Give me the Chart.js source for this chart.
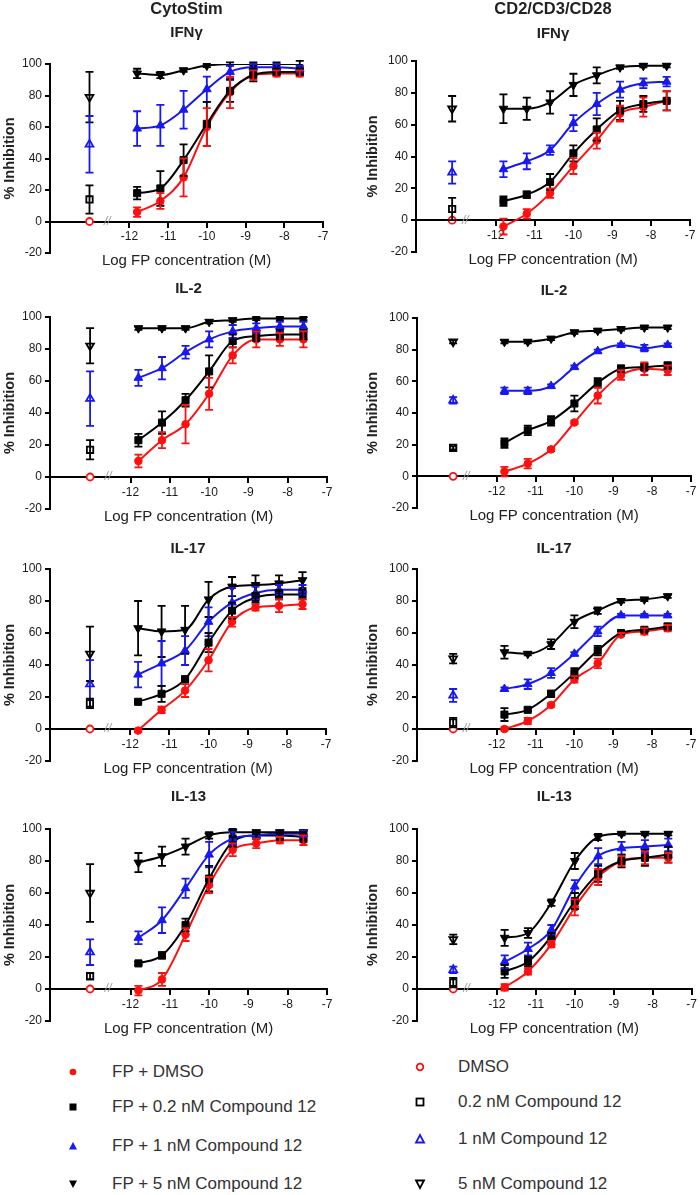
<!DOCTYPE html>
<html><head><meta charset="utf-8">
<script src="https://cdn.jsdelivr.net/npm/chart.js@4/dist/chart.umd.min.js"></script>
<style>
body{margin:0;background:#fff;width:700px;height:1195px;position:relative;overflow:hidden;font-family:"Liberation Sans",Arial,sans-serif}
canvas{position:absolute}
.lg{position:absolute;font-size:17px;color:#333;white-space:nowrap;line-height:20px}
.lg svg{position:absolute}
</style></head><body>
<script>
// ---------- data ----------
const doses = [-11.8,-11.2,-10.6,-10.0,-9.4,-8.8,-8.2,-7.6];
const xTicks = [-12,-11,-10,-9,-8,-7];
const yTicks = [-20,0,20,40,60,80,100];
const groupTitles = ['CytoStim','CD2/CD3/CD28'];
const cytokines = ['IFNγ','IL-2','IL-17','IL-13'];
const seriesNames = ['FP + DMSO','FP + 0.2 nM Compound 12','FP + 1 nM Compound 12','FP + 5 nM Compound 12'];
const controlNames = ['DMSO','0.2 nM Compound 12','1 nM Compound 12','5 nM Compound 12'];
const controlX = [-13.03,-13.12];

// CytoStim IFNγ
const cs_ifng_m0=[6,13,28,60,82,93,94,94],   cs_ifng_e0=[3,5,12,12,10,3,2,2];
const cs_ifng_m1=[18,21,39,62,83,93,95,95],  cs_ifng_e1=[4,11,10,14,7,4,2,2];
const cs_ifng_m2=[59,61,71,84,95,98,98,97],  cs_ifng_e2=[11,13,12,8,4,2,2,2];
const cs_ifng_m3=[94,93,96,99,100,100,100,100], cs_ifng_e3=[3,2,1,1,1,1,1,2];
const cs_ifng_ctrl=[0,14,49,79], cs_ifng_ctrlErr=[0,9,18,16];
// CD2/CD3/CD28 IFNγ
const cd_ifng_m0=[-4,4,17,34,50,67,71,75],   cd_ifng_e0=[5,3,3,5,5,5,6,6];
const cd_ifng_m1=[12,16,24,42,57,69,73,75],  cd_ifng_e1=[3,2,5,5,7,6,5,6];
const cd_ifng_m2=[32,37,44,61,73,82,86,87],  cd_ifng_e2=[5,5,3,5,7,5,3,3];
const cd_ifng_m3=[70,70,74,85,91,96,97,97],  cd_ifng_e3=[9,7,7,7,5,1,1,1];
const cd_ifng_ctrl=[0,7,30,70], cd_ifng_ctrlErr=[0,7,7,8];
// CytoStim IL-2
const cs_il2_m0=[10,23,33,52,76,86,86,86],   cs_il2_e0=[4,5,12,10,5,5,4,5];
const cs_il2_m1=[23,34,48,66,85,88,89,89],   cs_il2_e1=[4,7,4,10,4,3,3,3];
const cs_il2_m2=[62,68,78,86,91,93,94,94],   cs_il2_e2=[5,7,4,5,4,3,3,3];
const cs_il2_m3=[93,93,93,97,98,99,99,99],   cs_il2_e3=[1,1,1,1,1,1,1,1];
const cs_il2_ctrl=[0,17,49,82], cs_il2_ctrlErr=[0,6,17,11];
// CD2/CD3/CD28 IL-2
const cd_il2_m0=[3,8,17,34,51,64,68,67],     cd_il2_e0=[3,3,1,1,5,3,4,3];
const cd_il2_m1=[21,29,35,46,59,68,69,70],   cd_il2_e1=[3,3,3,5,3,2,2,2];
const cd_il2_m2=[54,54,57,69,79,83,81,83],   cd_il2_e2=[2,2,1,1,1,1,2,1];
const cd_il2_m3=[85,85,87,91,92,93,94,94],   cd_il2_e3=[1,1,1,1,1,1,1,1];
const cd_il2_ctrl=[0,18,48,85], cd_il2_ctrlErr=[0,1,2,1];
// CytoStim IL-17
const cs_il17_m0=[-1,12,24,43,67,76,77,78],  cs_il17_e0=[1,2,4,7,3,2,4,3];
const cs_il17_m1=[17,22,31,54,74,82,84,84],  cs_il17_e1=[1,5,2,6,5,3,3,3];
const cs_il17_m2=[34,41,49,67,79,85,87,87],  cs_il17_e2=[8,14,9,9,9,4,3,3];
const cs_il17_m3=[63,61,62,81,89,90,91,93],  cs_il17_e3=[17,16,15,11,6,6,5,5];
const cs_il17_ctrl=[0,16,28,47], cs_il17_ctrlErr=[0,3,15,17];
// CD2/CD3/CD28 IL-17
const cd_il17_m0=[0,5,15,31,41,59,61,63],    cd_il17_e0=[1,2,1,2,3,1,2,2];
const cd_il17_m1=[9,12,22,35,49,60,62,64],   cd_il17_e1=[4,1,2,3,3,1,1,2];
const cd_il17_m2=[25,28,35,47,61,71,71,71],  cd_il17_e2=[1,3,3,1,3,1,1,1];
const cd_il17_m3=[48,47,53,67,74,80,81,83],  cd_il17_e3=[4,1,3,4,2,1,1,1];
const cd_il17_ctrl=[0,4,21,44], cd_il17_ctrlErr=[0,3,4,3];
// CytoStim IL-13
const cs_il13_m0=[-1,6,34,65,87,91,93,93],   cs_il13_e0=[3,4,4,5,4,3,2,3];
const cs_il13_m1=[16,21,40,69,92,96,96,95],  cs_il13_e1=[1,2,4,8,3,2,3,3];
const cs_il13_m2=[32,43,63,84,94,96,97,97],  cs_il13_e2=[4,8,6,8,4,2,2,2];
const cs_il13_m3=[79,83,89,96,98,98,98,98],  cs_il13_e3=[6,6,5,2,2,1,1,1];
const cs_il13_ctrl=[0,8,23,60], cs_il13_ctrlErr=[0,2,8,18];
// CD2/CD3/CD28 IL-13
const cd_il13_m0=[1,11,28,51,70,80,82,82],   cd_il13_e0=[2,2,2,5,5,3,4,3];
const cd_il13_m1=[11,17,33,55,72,80,82,84],  cd_il13_e1=[4,3,2,5,5,4,5,5];
const cd_il13_m2=[17,25,37,64,83,88,89,90],  cd_il13_e2=[4,4,3,4,5,4,4,4];
const cd_il13_m3=[32,35,54,80,95,97,97,97],  cd_il13_e3=[5,3,2,5,2,1,1,1];
const cd_il13_ctrl=[0,4,12,31], cd_il13_ctrlErr=[0,3,2,3];

// ---------- styles ----------
const RED='#ff1010', BLUE='#1818f0', BLK='#000';
const colors=[RED,BLK,BLUE,BLK];
const pStyles=['circle','rect','triangle','triangle'];
const pRot=[0,0,0,180];
const pRad=[3.8,5,5,5];

// panel geometry (page px): chart-area left/right/top/bottom, title centre
const geo=[
 {L:50,R:323,T:64,B:245,tc:33,gc:8},
 {L:416,R:690,T:61,B:244,tc:34,gc:9},
 {L:50,R:327,T:317,B:501,tc:289},
 {L:417,R:691,T:318,B:500,tc:291},
 {L:50,R:326,T:569,B:753,tc:549},
 {L:417,R:691,T:569,B:753,tc:549},
 {L:50,R:327,T:829,B:1013,tc:797},
 {L:417,R:692,T:829,B:1013,tc:797}
];
const panels=[
 {m:[cs_ifng_m0,cs_ifng_m1,cs_ifng_m2,cs_ifng_m3],e:[cs_ifng_e0,cs_ifng_e1,cs_ifng_e2,cs_ifng_e3],c:cs_ifng_ctrl,ce:cs_ifng_ctrlErr},
 {m:[cd_ifng_m0,cd_ifng_m1,cd_ifng_m2,cd_ifng_m3],e:[cd_ifng_e0,cd_ifng_e1,cd_ifng_e2,cd_ifng_e3],c:cd_ifng_ctrl,ce:cd_ifng_ctrlErr},
 {m:[cs_il2_m0,cs_il2_m1,cs_il2_m2,cs_il2_m3],e:[cs_il2_e0,cs_il2_e1,cs_il2_e2,cs_il2_e3],c:cs_il2_ctrl,ce:cs_il2_ctrlErr},
 {m:[cd_il2_m0,cd_il2_m1,cd_il2_m2,cd_il2_m3],e:[cd_il2_e0,cd_il2_e1,cd_il2_e2,cd_il2_e3],c:cd_il2_ctrl,ce:cd_il2_ctrlErr},
 {m:[cs_il17_m0,cs_il17_m1,cs_il17_m2,cs_il17_m3],e:[cs_il17_e0,cs_il17_e1,cs_il17_e2,cs_il17_e3],c:cs_il17_ctrl,ce:cs_il17_ctrlErr},
 {m:[cd_il17_m0,cd_il17_m1,cd_il17_m2,cd_il17_m3],e:[cd_il17_e0,cd_il17_e1,cd_il17_e2,cd_il17_e3],c:cd_il17_ctrl,ce:cd_il17_ctrlErr},
 {m:[cs_il13_m0,cs_il13_m1,cs_il13_m2,cs_il13_m3],e:[cs_il13_e0,cs_il13_e1,cs_il13_e2,cs_il13_e3],c:cs_il13_ctrl,ce:cs_il13_ctrlErr},
 {m:[cd_il13_m0,cd_il13_m1,cd_il13_m2,cd_il13_m3],e:[cd_il13_e0,cd_il13_e1,cd_il13_e2,cd_il13_e3],c:cd_il13_ctrl,ce:cd_il13_ctrlErr}
];

Chart.defaults.font.family="'Liberation Sans', Arial, sans-serif";
Chart.defaults.color='#222';

const errorBars={
  id:'errorBars',
  afterDatasetsDraw(chart){
    const {ctx,scales:{x,y}}=chart;
    chart.data.datasets.forEach(ds=>{
      if(!ds.errors) return;
      ctx.save(); ctx.strokeStyle=ds.borderColor; ctx.lineWidth=1.8;
      ds.data.forEach((pt,i)=>{
        const e=ds.errors[i]; if(!e) return;
        const px=x.getPixelForValue(pt.x), t=y.getPixelForValue(pt.y+e), b=y.getPixelForValue(pt.y-e);
        ctx.beginPath();
        ctx.moveTo(px,t);ctx.lineTo(px,b);
        ctx.moveTo(px-4,t);ctx.lineTo(px+4,t);
        ctx.moveTo(px-4,b);ctx.lineTo(px+4,b);
        ctx.stroke();
      });
      ctx.restore();
    });
  }
};
const axisBreak={
  id:'axisBreak',
  afterDraw(chart,args,opts){
    const {ctx,scales:{x,y}}=chart;
    ctx.save();ctx.fillStyle='#9a9a9a';ctx.font="italic 12px 'Liberation Sans'";
    ctx.textAlign='center';ctx.textBaseline='middle';
    ctx.fillText('//',x.getPixelForValue(opts.at),y.getPixelForValue(0));
    ctx.restore();
  }
};

panels.forEach((p,k)=>{
  const g=geo[k], col=k%2, row=Math.floor(k/2);
  const cvLeft=col*350;
  const tSize=15, tLH=tSize*1.2, gSize=16.5, gLH=gSize*1.2;
  const top0 = row===0?0:Math.round(g.tc-tLH/2-1);
  const relT=g.T-top0, relB=g.B-top0;
  const cv=document.createElement('canvas');
  cv.width=350; cv.height=Math.round(relB+24);
  cv.style.left=cvLeft+'px'; cv.style.top=top0+'px';
  document.body.appendChild(cv);
  const datasets=[];
  for(let s=3;s>=0;s--){
    datasets.push({
      type:'line',label:seriesNames[s],xAxisID:'x',yAxisID:'y',
      data:doses.map((d,i)=>({x:d,y:p.m[s][i]})),errors:p.e[s],
      borderColor:colors[s],backgroundColor:colors[s],borderWidth:2,
      pointStyle:pStyles[s],rotation:pRot[s],pointRadius:pRad[s],pointBorderWidth:1,
      cubicInterpolationMode:'monotone',fill:false
    });
  }
  for(let s=3;s>=0;s--){
    datasets.push({
      type:'line',showLine:false,label:controlNames[s],xAxisID:'x',yAxisID:'y',
      data:[{x:controlX[col],y:p.c[s]}],errors:[p.ce[s]],
      borderColor:colors[s],backgroundColor:'#fff',pointBorderWidth:1.8,
      pointStyle:pStyles[s],rotation:pRot[s],pointRadius:s===0?3.5:4.5
    });
  }
  const titleFont={size:tSize,weight:'bold',lineHeight:1.2};
  const groupFont={size:gSize,weight:'bold',lineHeight:1.2};
  let title, subtitle;
  if(row===0){
    const pt=Math.max(0,g.gc-gLH/2);
    const blk=pt+gLH;
    const spt=g.tc-tLH/2-blk;
    title={display:true,text:groupTitles[col],font:groupFont,color:'#222',fullSize:false,padding:{top:pt,bottom:0}};
    subtitle={display:true,text:cytokines[row],font:titleFont,color:'#222',fullSize:false,
      padding:{top:spt,bottom:relT-blk-spt-tLH}};
  }else{
    const pt=g.tc-top0-tLH/2;
    title={display:true,text:cytokines[row],font:titleFont,color:'#222',fullSize:false,
      padding:{top:pt,bottom:relT-pt-tLH}};
    subtitle={display:false};
  }
  new Chart(cv,{
    data:{datasets},
    options:{
      responsive:false,animation:false,devicePixelRatio:1,
      layout:{padding:{left:0,right:350-(g.R-cvLeft),top:0,bottom:0}},
      plugins:{legend:{display:false},tooltip:{enabled:false},title,subtitle,
        axisBreak:{at:col===0?-12.57:-12.78}},
      scales:{
        x:{type:'linear',min:-14.05,max:-7,position:{y:0},
          afterBuildTicks:s=>{s.ticks=xTicks.map(v=>({value:v}));},
          afterFit:s=>{s.height=1;},
          grid:{drawOnChartArea:false,drawTicks:true,tickLength:5,color:'#000',lineWidth:2},
          border:{display:true,color:'#000',width:2},
          ticks:{font:{size:12},color:'#1a1a1a',padding:3}},
        xb:{type:'linear',axis:'x',position:'bottom',min:-14.05,max:-7,display:true,
          afterFit:s=>{s.height=16;},
          ticks:{display:false},grid:{display:false,drawTicks:false},border:{display:false},
          title:{display:true,text:'Log FP concentration (M)',font:{size:15,lineHeight:1.1},color:'#222',padding:0}},
        y:{type:'linear',min:-20,max:100,position:'left',
          afterBuildTicks:s=>{s.ticks=yTicks.map(v=>({value:v}));},
          afterFit:s=>{s.width=g.L-cvLeft;},
          grid:{drawOnChartArea:false,drawTicks:true,tickLength:5,color:'#000',lineWidth:2},
          border:{display:true,color:'#000',width:2},
          ticks:{font:{size:12},color:'#1a1a1a',padding:3},
          title:{display:true,text:'% Inhibition',font:{size:14.5,weight:'bold',lineHeight:1.1},color:'#222',
            padding:{top:col===0?2:15,bottom:0}}}
      }
    },
    plugins:[errorBars,axisBreak]
  });
});

// ---------- legend ----------
function marker(style,color,open){
  const f=open?'#fff':color, sw=open?1.8:0;
  let shape='';
  if(style===0) shape=`<circle cx="6" cy="6" r="3.3" fill="${f}" stroke="${color}" stroke-width="${sw}"/>`;
  if(style===1) shape=`<rect x="2.5" y="2.5" width="7" height="7" fill="${f}" stroke="${color}" stroke-width="${sw}"/>`;
  if(style===2) shape=`<polygon points="6,2 10,9.5 2,9.5" fill="${f}" stroke="${color}" stroke-width="${sw}"/>`;
  if(style===3) shape=`<polygon points="2,2.5 10,2.5 6,10" fill="${f}" stroke="${color}" stroke-width="${sw}"/>`;
  return `<svg width="12" height="12" style="left:-6px;top:-6px">${shape}</svg>`;
}
const legL={mx:73,tx:112,ys:[1072,1107,1146,1184]};
const legR={mx:420,tx:458,ys:[1067,1102,1139,1184]};
[[legL,seriesNames,false],[legR,controlNames,true]].forEach(([lg,names,open])=>{
  names.forEach((n,i)=>{
    const m=document.createElement('div');m.className='lg';
    m.style.left=lg.mx+'px';m.style.top=lg.ys[i]+'px';m.innerHTML=marker(i,colors[i],open);
    document.body.appendChild(m);
    const t=document.createElement('div');t.className='lg';
    t.style.left=lg.tx+'px';t.style.top=(lg.ys[i]-10)+'px';t.textContent=n;
    document.body.appendChild(t);
  });
});
</script>
</body></html>
